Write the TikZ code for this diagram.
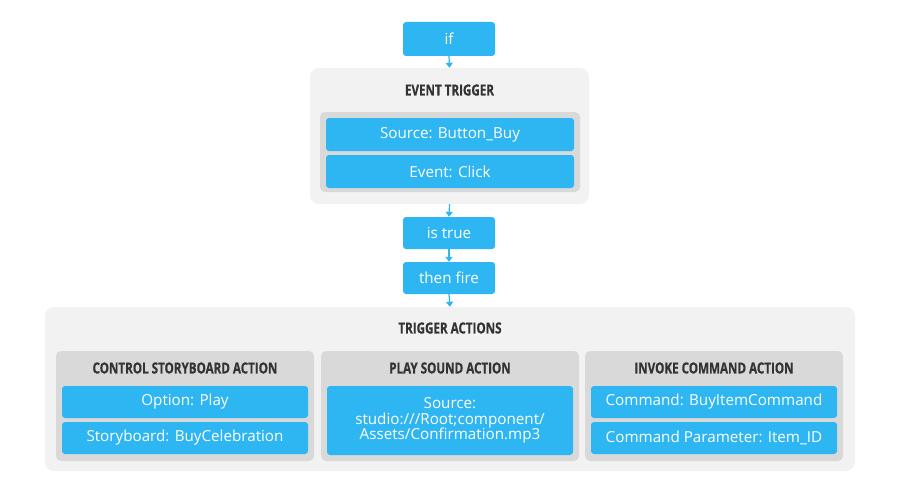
\documentclass[tikz,border=0pt]{standalone}
\usepackage{fontspec}
\setmainfont{Open Sans}
\newfontfamily\hdrfont[FakeStretch=0.76,FakeBold=0.6]{Open Sans Bold}
\usetikzlibrary{arrows.meta}
\definecolor{bluebox}{RGB}{46,182,243}
\definecolor{outergray}{RGB}{242,242,242}
\definecolor{innergray}{RGB}{217,217,217}
\definecolor{hdrtext}{RGB}{51,51,51}
\tikzset{
  x=1pt, y=-1pt,
  bluenode/.style={fill=bluebox, rounded corners=3pt, text=white, inner sep=0pt, align=center,
     font=\fontsize{15.2}{17}\selectfont},
  outerpanel/.style={fill=outergray, rounded corners=9pt, inner sep=0pt},
  innerpanel/.style={fill=innergray, rounded corners=5pt, inner sep=0pt},
  hdr/.style={text=hdrtext, font=\hdrfont\fontsize{15.3}{17}\selectfont, inner sep=0pt},
  flow/.style={draw=bluebox, line width=1.2pt, -{Triangle[length=5pt,width=7pt]}},
}
\newcommand{\boxnode}[6]{% style, name, x1, y1, x2, y2
  \node[#1, minimum width={#5-#3}, minimum height={#6-#4}] (#2) at ({(#3+#5)/2},{(#4+#6)/2}) {};}
\newcommand{\bluenodeat}[6]{% name, x1,y1,x2,y2, text
  \node[bluenode, minimum width={#4-#2}, minimum height={#5-#3}] (#1) at ({(#2+#4)/2},{(#3+#5)/2}) {#6};}
\begin{document}
\begin{tikzpicture}
\useasboundingbox (0,0) rectangle (900,495);
\fill[white] (0,0) rectangle (900,495);

% if
\bluenodeat{if}{403}{22}{495}{56}{if}

% Event trigger panel
\boxnode{outerpanel}{evt}{310}{68}{589}{204}
\node[hdr] (evthdr) at (449.5,90) {EVENT TRIGGER};
\boxnode{innerpanel}{evtin}{320}{112}{580}{192}
\bluenodeat{src}{326}{118}{574}{151}{Source: Button\_Buy}
\bluenodeat{clk}{326}{155}{574}{188}{Event: Click}

% is true / then fire
\bluenodeat{istrue}{403}{217}{495}{249}{is true}
\bluenodeat{fire}{403}{262}{495}{294}{then fire}

% Trigger actions panel
\boxnode{outerpanel}{act}{45}{307}{855}{471}
\node[hdr] (acthdr) at (450,328) {TRIGGER ACTIONS};

\boxnode{innerpanel}{col1}{56}{351}{314}{461}
\boxnode{innerpanel}{col2}{321}{351}{579}{461}
\boxnode{innerpanel}{col3}{585}{351}{843}{461}

\node[hdr] (h1) at (185,368) {CONTROL STORYBOARD ACTION};
\node[hdr] (h2) at (450,368) {PLAY SOUND ACTION};
\node[hdr] (h3) at (714,368) {INVOKE COMMAND ACTION};

\bluenodeat{opt}{62}{386}{308}{418}{Option: Play}
\bluenodeat{sb}{62}{422}{308}{454}{Storyboard: BuyCelebration}
\bluenodeat{snd}{327}{386}{573}{455}{Source:\\[-1.5pt]studio:///Root;component/\\[-1.5pt]Assets/Confirmation.mp3}
\bluenodeat{cmd}{591}{386}{837}{418}{Command: BuyItemCommand}
\bluenodeat{par}{591}{422}{837}{454}{Command Parameter: Item\_ID}

% connectors
\draw[flow] (if.south) -- (evt.north);
\draw[flow] (evt.south) -- (istrue.north);
\draw[flow] (istrue.south) -- (fire.north);
\draw[flow] (fire.south) -- (act.north);
\end{tikzpicture}
\end{document}
